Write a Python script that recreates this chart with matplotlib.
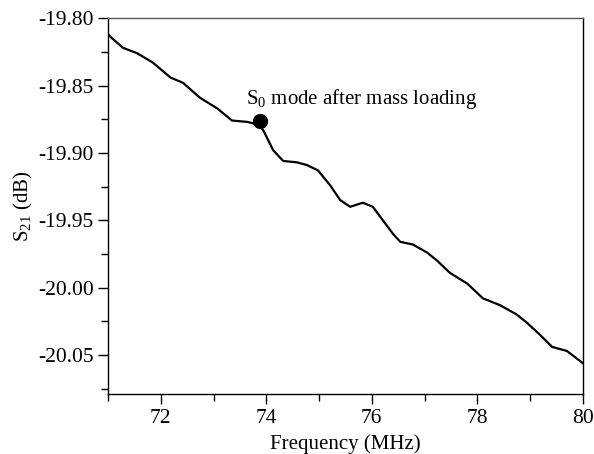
import matplotlib
matplotlib.use('Agg')
from matplotlib import pyplot as plt
from matplotlib.ticker import MultipleLocator

plt.rcParams['font.family'] = ['Liberation Serif', 'DejaVu Serif']
plt.rcParams['mathtext.fontset'] = 'custom'
plt.rcParams['mathtext.rm'] = 'Liberation Serif'
plt.rcParams['mathtext.it'] = 'Liberation Serif'
plt.rcParams['mathtext.default'] = 'regular'

# S21 curve
freq = [71.0, 71.02, 71.28, 71.55, 71.85, 72.18, 72.42, 72.74, 73.07, 73.35,
        73.64, 73.84, 73.94, 74.13, 74.32, 74.58, 74.77, 74.98, 75.21, 75.40,
        75.59, 75.83, 76.02, 76.21, 76.40, 76.54, 76.78, 77.05, 77.24, 77.48,
        77.81, 78.11, 78.43, 78.75, 78.94, 79.19, 79.42, 79.70, 80.0]
s21 = [-19.812, -19.813, -19.822, -19.826, -19.833, -19.844, -19.848, -19.859,
       -19.867, -19.876, -19.877, -19.879, -19.883, -19.898, -19.906, -19.907,
       -19.909, -19.913, -19.924, -19.935, -19.940, -19.937, -19.940, -19.950,
       -19.960, -19.966, -19.968, -19.974, -19.980, -19.989, -19.997, -20.008,
       -20.013, -20.020, -20.026, -20.035, -20.044, -20.047, -20.056]

mode_freq = 73.88
mode_s21 = -19.876

fig = plt.figure(figsize=(5.94, 4.54), dpi=100)
ax = fig.add_axes([0.182, 0.132, 0.799, 0.828])

ax.plot(freq, s21, color='black', linewidth=1.6)
ax.plot([mode_freq], [mode_s21], 'o', color='black', markersize=10)
ax.text(73.62, -19.864, 'S$_0$ mode after mass loading', fontsize=15)

ax.set_xlim(71, 80)
ax.set_ylim(-20.079, -19.80)
ax.xaxis.set_major_locator(MultipleLocator(2))
ax.xaxis.set_minor_locator(MultipleLocator(1))
ax.yaxis.set_major_locator(MultipleLocator(0.05))
ax.yaxis.set_minor_locator(MultipleLocator(0.025))
ax.yaxis.set_major_formatter(plt.FormatStrFormatter('%.2f'))

ax.tick_params(which='major', direction='out', length=7, width=1, labelsize=15.5)
ax.tick_params(which='minor', direction='out', length=5, width=1)
ax.tick_params(top=False, right=False, which='both')
for sp in ax.spines.values():
    sp.set_linewidth(1.0)
ax.spines['top'].set_color('#555555')

ax.set_xlabel('Frequency (MHz)', fontsize=15, labelpad=5)
ax.set_ylabel('S$_{21}$ (dB)', fontsize=15, labelpad=2)

fig.savefig('out.png', dpi=100)
plt.close(fig)
